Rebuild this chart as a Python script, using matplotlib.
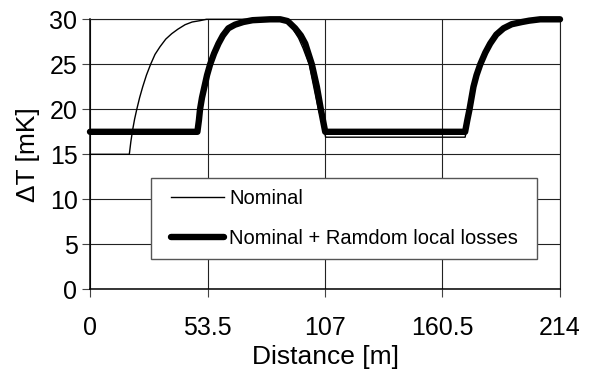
import matplotlib
matplotlib.use('Agg')
import matplotlib.pyplot as plt
from matplotlib.legend_handler import HandlerLine2D

plt.rcParams['font.family'] = ['Liberation Sans', 'DejaVu Sans']

# Values
# Nominal profile
nom_x = [0, 17.9, 18.6, 19.4, 20.3, 21.3, 22.6, 24.0, 25.7, 27.6, 29.6, 31.9, 34.5,
         37.2, 40, 43.3, 46.5, 50.1, 53, 88, 90, 92.2, 95, 97, 99.8, 102.3, 104,
         105.8, 107.3, 170.8, 171.8, 172.8, 174.6, 176, 177.7, 180, 182.2, 185,
         188.3, 192, 196.7, 200, 205, 214]
nom_y = [15, 15, 16.4, 17.7, 18.9, 20, 21.3, 22.5, 23.8, 25, 26.1, 26.96, 27.8,
         28.4, 28.9, 29.4, 29.7, 29.85, 30, 30, 29.6, 29.0, 27.9, 26.8, 25, 22, 20,
         18.5, 16.9, 16.9, 18.2, 19.6, 22.2, 23.6, 24.9, 26.2, 27.2, 28.2,
         29, 29.45, 29.7, 29.85, 30, 30]

# Nominal + random local losses
loss_x = [0, 48.9, 49.6, 50.1, 51.0, 52.1, 53.3, 54.7, 56.5, 58.5, 60.5, 63.0, 66,
          69.8, 74, 82, 86.6, 90, 93.4, 96, 98.0, 101.0, 103.3, 105.1, 106.3, 107.1,
          170.8, 171.8, 172.8, 174.6, 176, 177.7, 180, 182.2, 185, 188.3, 192,
          196.7, 200, 205, 214]
loss_y = [17.5, 17.5, 18.8, 20, 21.3, 22.5, 23.8, 25, 26.2, 27.3, 28.2, 29, 29.4,
          29.7, 29.9, 30, 30, 29.8, 29.0, 28.2, 27.3, 25, 22.5, 20, 18.5, 17.5,
          17.5, 18.8, 20, 22.5, 23.8, 25, 26.3, 27.3, 28.3, 29.0, 29.45,
          29.7, 29.85, 30, 30]

x_ticks = [0, 53.5, 107, 160.5, 214]
x_tick_labels = ['0', '53.5', '107', '160.5', '214']
y_ticks = [0, 5, 10, 15, 20, 25, 30]

fig = plt.figure(figsize=(5.94, 3.81), dpi=100)
ax = fig.add_axes([90 / 594, 1 - 289.3 / 381, 470 / 594, 270 / 381])

ax.plot(nom_x, nom_y, color='black', lw=1.0, label='Nominal', clip_on=False, zorder=3)
ax.plot(loss_x, loss_y, color='black', lw=4.6, solid_capstyle='round',
        label='Nominal + Ramdom local losses', clip_on=False, zorder=4)

ax.set_xlim(0, 214)
ax.set_ylim(0, 30)
ax.set_xticks(x_ticks)
ax.set_xticklabels(x_tick_labels)
ax.set_yticks(y_ticks)

ax.grid(True, color='#222222', lw=0.8)
ax.set_axisbelow(True)
for s in ax.spines.values():
    s.set_color('#222222')
    s.set_linewidth(0.8)
ax.spines['left'].set_color('black')
ax.spines['left'].set_linewidth(1.1)
ax.spines['bottom'].set_color('black')
ax.spines['bottom'].set_linewidth(1.1)

ax.tick_params(axis='x', direction='out', length=6, width=0.8, color='#444444',
               labelsize=18, pad=13)
ax.tick_params(axis='y', direction='out', length=6, width=0.8, color='#444444',
               labelsize=18, pad=3)

ax.set_xlabel('Distance [m]', fontsize=19)
ax.xaxis.set_label_coords(0.5, -0.205)
ax.set_ylabel('ΔT [mK]', fontsize=19)
ax.yaxis.set_label_coords(-0.107, 0.5)

fs = 14.5
leg = ax.legend(loc='upper left', bbox_to_anchor=(0.129, 0.0, 0.822, 0.412),
                mode='expand', borderaxespad=0, fontsize=fs, fancybox=False,
                edgecolor='#555555', framealpha=1, borderpad=0.55,
                labelspacing=1.05, handlelength=3.1, handletextpad=0.25,
                handler_map={plt.Line2D: HandlerLine2D(xpad=0.46)})
leg.get_frame().set_linewidth(1.0)
leg.set_zorder(5)

fig.savefig('out.png', dpi=100)
